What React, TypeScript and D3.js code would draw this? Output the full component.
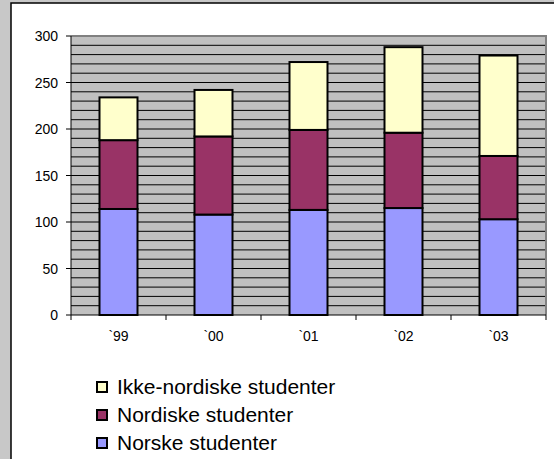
import React from "react";
import * as d3 from "d3";

const categories = ["`99", "`00", "`01", "`02", "`03"];
const norske = [114, 108, 113, 115, 103];
const nordiske = [74, 84, 86, 81, 68];
const ikkeNordiske = [46, 50, 73, 92, 108];
const seriesNames = ["Norske studenter", "Nordiske studenter", "Ikke-nordiske studenter"];
const seriesColors = ["#9999ff", "#993366", "#ffffcc"];
const yTicks = [0, 50, 100, 150, 200, 250, 300];

export default function App() {
  const W = 554, H = 459;
  const left = 71, right = 546, top = 36, bottom = 315;
  const x = d3.scaleBand<string>().domain(categories).range([left, right]).paddingInner(0.6).paddingOuter(0.3);
  const xb = d3.scaleBand<string>().domain(categories).range([left, right]);
  const y = d3.scaleLinear().domain([0, 300]).range([bottom, top]);
  const rows = categories.map((c, i) => ({ c, a: norske[i], b: nordiske[i], d: ikkeNordiske[i] }));
  const stack = d3.stack<any>().keys(["a", "b", "d"])(rows);
  const minor = d3.range(10, 300, 10);
  const font = "Liberation Sans, Arial, sans-serif";
  return (
    <div style={{ position: "absolute", left: 0, top: 0 }}>
      <svg width={W} height={H} style={{ display: "block" }}>
        <rect x={0} y={0} width={W} height={H} fill="#c8c8c8" />
        <rect x={11} y={3} width={W} height={H} fill="#ffffff" stroke="#000" strokeWidth={1.5} />
        <rect x={left} y={top} width={right - left} height={bottom - top} fill="#c0c0c0" />
        {minor.map((v) => (
          <line key={v} x1={left} x2={right} y1={y(v)} y2={y(v)} stroke="#000" strokeWidth={1} />
        ))}
        <polyline points={`${left},${top} ${right},${top} ${right},${bottom}`} fill="none" stroke="#808080" strokeWidth={2} />
        {stack.map((s, si) =>
          s.map((d, i) => (
            <rect
              key={si + "-" + i}
              x={x(categories[i])}
              y={y(d[1])}
              width={x.bandwidth()}
              height={y(d[0]) - y(d[1])}
              fill={seriesColors[si]}
              stroke="#000"
              strokeWidth={2}
            />
          ))
        )}
        <line x1={left} x2={left} y1={top} y2={bottom} stroke="#000" strokeWidth={1} />
        <line x1={left} x2={right} y1={bottom} y2={bottom} stroke="#000" strokeWidth={1} />
        {yTicks.map((v) => (
          <g key={v}>
            <line x1={left - 5} x2={left} y1={y(v)} y2={y(v)} stroke="#000" />
            <text x={left - 13} y={y(v)} dy="0.36em" textAnchor="end" fontFamily={font} fontSize={14}>{v}</text>
          </g>
        ))}
        {categories.map((c, i) => (
          <g key={c}>
            <line x1={xb(c)! + xb.bandwidth()} x2={xb(c)! + xb.bandwidth()} y1={bottom} y2={bottom + 5} stroke="#000" />
            <text x={xb(c)! + xb.bandwidth() / 2} y={bottom + 26} textAnchor="middle" fontFamily={font} fontSize={14}>{c}</text>
          </g>
        ))}
        <line x1={left} x2={left} y1={bottom} y2={bottom + 5} stroke="#000" />
        {[2, 1, 0].map((si, k) => (
          <g key={si} transform={`translate(97, ${382 + k * 28})`}>
            <rect x={0} y={0} width={10} height={10} fill={seriesColors[si]} stroke="#000" strokeWidth={2} />
            <text x={20} y={12} fontFamily={font} fontSize={21}>{seriesNames[si]}</text>
          </g>
        ))}
      </svg>
    </div>
  );
}
